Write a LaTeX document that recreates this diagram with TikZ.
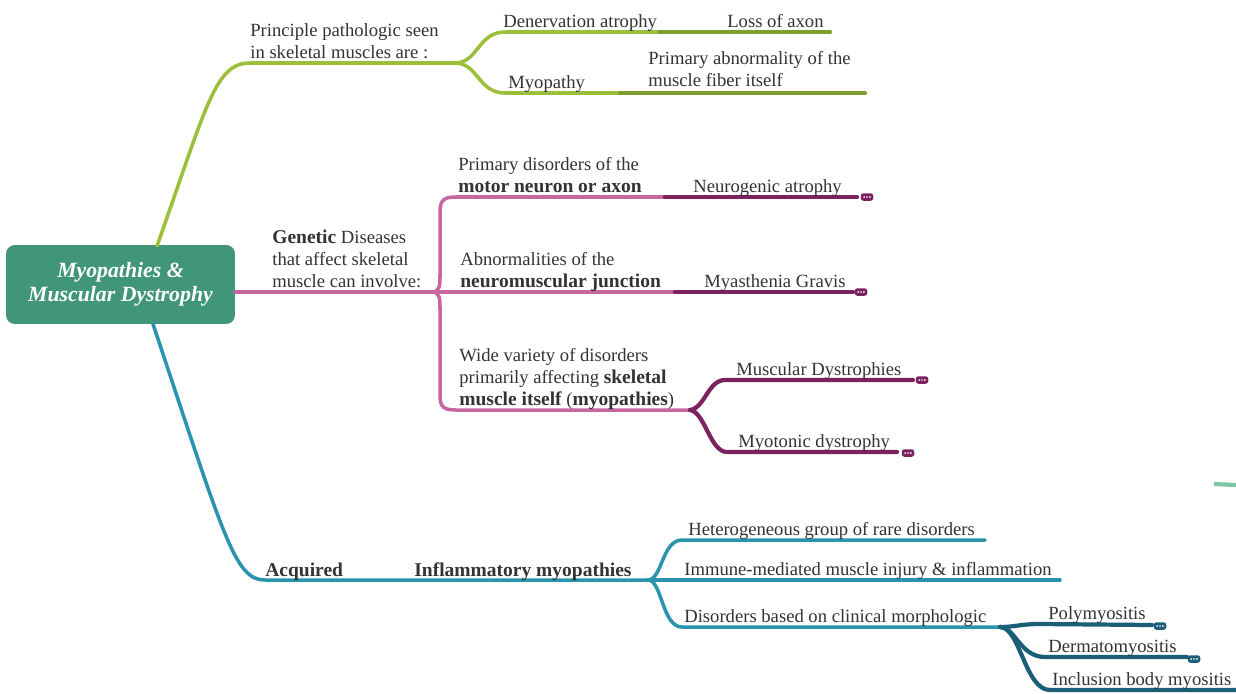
\documentclass[tikz,border=0pt]{standalone}
\usepackage{fontspec}
\setmainfont{Liberation Serif}
\usepackage{tikz}
\usetikzlibrary{calc}

\definecolor{rootgreen}{HTML}{41967A}
\definecolor{olivebr}{HTML}{9CBF3B}
\definecolor{olivedk}{HTML}{7F9C2E}
\definecolor{pinkbr}{HTML}{C8679F}
\definecolor{plumdk}{HTML}{7D2260}
\definecolor{tealbr}{HTML}{2A93AE}
\definecolor{tealdk}{HTML}{1B5E78}
\definecolor{mintbr}{HTML}{7CC7A8}
\definecolor{inkgray}{HTML}{333333}
\newcommand{\hb}[1]{{\fontsize{11.1}{12.3}\selectfont\bfseries #1}}

\begin{document}
\begin{tikzpicture}[x=0.02cm, y=-0.02cm,
  lbl/.style={anchor=south west, inner sep=0pt, align=left, text=inkgray, font=\fontsize{10.6}{12.3}\selectfont, execute at end node=\strut},
  br/.style={line width=2pt, line cap=round},
  brdk/.style={line width=2.4pt, line cap=round},
  more/.style={fill=#1, rounded corners=1.5pt, minimum width=0.25cm, minimum height=0.15cm, inner sep=0pt,
    path picture={\foreach \d in {-1,0,1} \fill[white] ($(path picture bounding box.center)+(\d*2.8,0)$) circle[radius=0.55pt];}}]
  \useasboundingbox[fill=white] (0,0) rectangle (1236,693);

  \node[fill=rootgreen, rounded corners=5pt, minimum width=4.58cm, minimum height=1.58cm, text=white, align=center, font=\bfseries\itshape\fontsize{12.4}{13.4}\selectfont] (root) at (120.5,284.5) {Myopathies \&\\Muscular Dystrophy};

  \coordinate (gS) at (157,246);
  \coordinate (gF) at (455,63);
  \coordinate (gA) at (660,32);
  \coordinate (gA1) at (830,32);
  \coordinate (gB) at (620,93);
  \coordinate (gB1) at (865,93);
  \draw[br, olivebr] (gS) .. controls (207,105) and (215,63) .. (250,63) -- (gF);
  \draw[br, olivebr] (gF) .. controls (478,63) and (478,32) .. (505,32) -- (gA);
  \draw[brdk, olivedk] (gA) -- (gA1);
  \draw[br, olivebr] (gF) .. controls (478,63) and (478,93) .. (505,93) -- (gB);
  \draw[brdk, olivedk] (gB) -- (gB1);

  \coordinate (pS) at (235,292);
  \coordinate (pF) at (432,292);
  \coordinate (pA) at (665,197);
  \coordinate (pA1) at (857,197);
  \coordinate (pB) at (675,292);
  \coordinate (pB1) at (853,292);
  \coordinate (pC) at (690,410);
  \coordinate (pC1) at (913,380);
  \coordinate (pC2) at (897,452);
  \draw[br, pinkbr] (pS) -- (pF);
  \draw[br, pinkbr] (pF) .. controls (440,292) and (440,285) .. (440,275) -- (440,212) .. controls (440,200) and (444,197) .. (456,197) -- (pA);
  \draw[brdk, plumdk] (pA) -- (pA1);
  \draw[br, pinkbr] (pF) -- (pB);
  \draw[brdk, plumdk] (pB) -- (pB1);
  \draw[br, pinkbr] (pF) .. controls (440,292) and (440,299) .. (440,309) -- (440,396) .. controls (440,407) and (444,410) .. (456,410) -- (pC);
  \draw[brdk, plumdk] (pC) .. controls (705,408) and (708,380) .. (725,380) -- (pC1);
  \draw[brdk, plumdk] (pC) .. controls (705,412) and (710,452) .. (727,452) -- (pC2);

  \coordinate (bS) at (153,324);
  \coordinate (bF) at (648,580);
  \coordinate (bA) at (985,540);
  \coordinate (bB) at (1060,580);
  \coordinate (bC) at (1000,627);
  \coordinate (bC1) at (1152,625);
  \coordinate (bC2) at (1187,657);
  \coordinate (bC3) at (1236,690);
  \draw[br, tealbr] (bS) .. controls (225,540) and (235,580) .. (265,580) -- (bF);
  \draw[br, tealbr] (bF) .. controls (662,580) and (662,540) .. (682,540) -- (bA);
  \draw[br, tealbr] (bF) -- (bB);
  \draw[br, tealbr] (bF) .. controls (662,580) and (662,627) .. (682,627) -- (bC);
  \draw[brdk, tealdk] (bC) .. controls (1015,627) and (1020,624) .. (1040,624) -- (bC1);
  \draw[brdk, tealdk] (bC) .. controls (1015,627) and (1020,657) .. (1045,657) -- (bC2);
  \draw[brdk, tealdk] (bC) .. controls (1020,627) and (1025,690) .. (1050,690) -- (bC3);

  \draw[line width=2.4pt, mintbr] (1214,484) -- (1236,485);

  \node[lbl] (principle) at (250,65) {Principle pathologic seen\\in skeletal muscles are :};
  \node[lbl] (denerv) at (503,34) {Denervation atrophy};
  \node[lbl] (axon) at (727,34) {Loss of axon};
  \node[lbl] (myopathy) at (508,95) {Myopathy};
  \node[lbl] (fiber) at (648,93) {Primary abnormality of the\\muscle fiber itself};

  \node[lbl] (genetic) at (272,294) {\hb{Genetic} Diseases\\that affect skeletal\\muscle can involve:};
  \node[lbl] (motor) at (458,199) {Primary disorders of the\\\hb{motor neuron or axon}};
  \node[lbl] (neuro) at (693,199) {Neurogenic atrophy};
  \node[lbl] (junction) at (460,294) {Abnormalities of the\\\hb{neuromuscular junction}};
  \node[lbl] (gravis) at (704,294) {Myasthenia Gravis};
  \node[lbl] (wide) at (459,412) {Wide variety of disorders\\primarily affecting \hb{skeletal}\\\hb{muscle itself} (\hb{myopathies})};
  \node[lbl] (dystro) at (736,382) {Muscular Dystrophies};
  \node[lbl] (myoton) at (738,454) {Myotonic dystrophy};

  \node[lbl] (acquired) at (265,583) {\hb{Acquired}};
  \node[lbl] (inflam) at (414,583) {\hb{Inflammatory myopathies}};
  \node[lbl] (hetero) at (688,542) {Heterogeneous group of rare disorders};
  \node[lbl] (immune) at (684,582) {Immune-mediated muscle injury \& inflammation};
  \node[lbl] (morpho) at (684,629) {Disorders based on clinical morphologic};
  \node[lbl] (poly) at (1048,626) {Polymyositis};
  \node[lbl] (derma) at (1048,659) {Dermatomyositis};
  \node[lbl] (inclus) at (1052,692) {Inclusion body myositis};

  \node[more=plumdk] (m1) at (867,197) {};
  \node[more=plumdk] (m2) at (861,292) {};
  \node[more=plumdk] (m3) at (922,380) {};
  \node[more=plumdk] (m4) at (908,453) {};
  \node[more=tealdk] (m5) at (1160,626) {};
  \node[more=tealdk] (m6) at (1194,659) {};
\end{tikzpicture}
\end{document}
